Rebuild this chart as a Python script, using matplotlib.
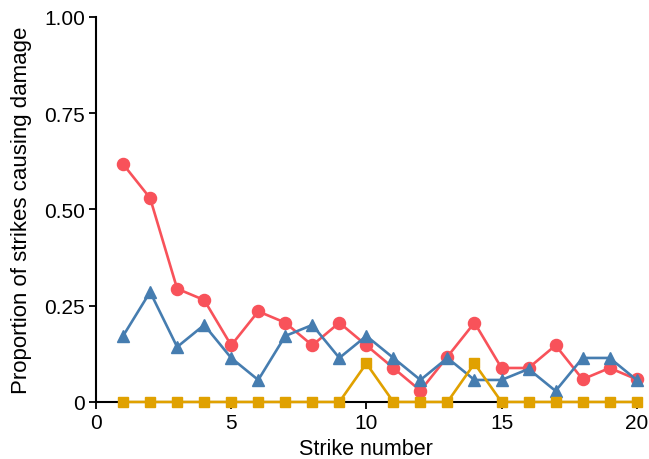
import matplotlib
matplotlib.use("Agg")
import matplotlib.pyplot as plt

plt.rcParams['font.family'] = ['Liberation Sans', 'DejaVu Sans']

strike = list(range(1, 21))
red_prop = [21/34, 18/34, 10/34, 9/34, 5/34, 8/34, 7/34, 5/34, 7/34, 5/34,
            3/34, 1/34, 4/34, 7/34, 3/34, 3/34, 5/34, 2/34, 3/34, 2/34]
blue_prop = [6/35, 10/35, 5/35, 7/35, 4/35, 2/35, 6/35, 7/35, 4/35, 6/35,
             4/35, 2/35, 4/35, 2/35, 2/35, 3/35, 1/35, 4/35, 4/35, 2/35]
gold_prop = [0, 0, 0, 0, 0, 0, 0, 0, 0, 0.1,
             0, 0, 0, 0.1, 0, 0, 0, 0, 0, 0]

xticks = [0, 5, 10, 15, 20]
yticks = [0, 0.25, 0.5, 0.75, 1.0]
ytick_labels = ["0", "0.25", "0.50", "0.75", "1.00"]

fig = plt.figure(figsize=(6.49, 4.60), dpi=100)
ax = fig.add_axes([0.148, 0.124, 0.833, 0.837])

ax.plot(strike, red_prop, color='#F8525A', lw=1.9, marker='o', ms=8.7,
        clip_on=False, zorder=3)
ax.plot(strike, blue_prop, color='#467DB0', lw=1.9, marker='^', ms=9.2,
        clip_on=False, zorder=4)
ax.plot(strike, gold_prop, color='#E0A100', lw=1.9, marker='s', ms=7.7,
        clip_on=False, zorder=5)

ax.set_xlim(0, 20)
ax.set_ylim(0, 1)
ax.set_xticks(xticks)
ax.set_yticks(yticks)
ax.set_yticklabels(ytick_labels)
ax.tick_params(labelsize=15, length=5, width=1.3, direction='out',
               colors='black', pad=3)
for s in ['top', 'right']:
    ax.spines[s].set_visible(False)
for s in ['left', 'bottom']:
    ax.spines[s].set_linewidth(1.5)
    ax.spines[s].set_zorder(4.5)

ax.set_xlabel("Strike number", fontsize=15.5, labelpad=4)
ax.set_ylabel("Proportion of strikes causing damage", fontsize=16, labelpad=9)

fig.savefig("out.png", dpi=100)
